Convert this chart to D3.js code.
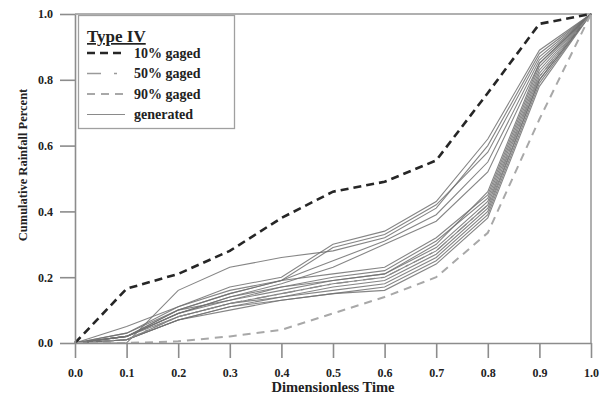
<!DOCTYPE html>
<html>
<head>
<meta charset="utf-8">
<script src="https://cdn.jsdelivr.net/npm/d3@7"></script>
<style>
  body { margin: 0; background: #fff; }
  text { font-family: "Liberation Serif", "Times New Roman", serif; font-weight: bold; }
</style>
</head>
<body>
<svg id="chart"></svg>
<script>
// dimensionless time steps
var times = [0, 0.1, 0.2, 0.3, 0.4, 0.5, 0.6, 0.7, 0.8, 0.9, 1.0]
var xTicks = [0, 0.1, 0.2, 0.3, 0.4, 0.5, 0.6, 0.7, 0.8, 0.9, 1.0]
var yTicks = [0, 0.2, 0.4, 0.6, 0.8, 1.0]

var gaged10 = [0, 0.165, 0.21, 0.28, 0.38, 0.46, 0.49, 0.555, 0.76, 0.97, 1]
var gaged50 = [0, 0.01, 0.08, 0.12, 0.15, 0.18, 0.20, 0.28, 0.42, 0.81, 1]
var gaged90 = [0, 0.0, 0.005, 0.02, 0.04, 0.09, 0.14, 0.20, 0.335, 0.68, 1]

// generated hyetographs
var generated = [
  [0, 0.00, 0.16, 0.23, 0.26, 0.28, 0.32, 0.41, 0.60, 0.88, 1],
  [0, 0.05, 0.11, 0.17, 0.20, 0.30, 0.34, 0.43, 0.62, 0.89, 1],
  [0, 0.03, 0.11, 0.16, 0.19, 0.29, 0.33, 0.42, 0.58, 0.87, 1],
  [0, 0.02, 0.10, 0.15, 0.19, 0.25, 0.31, 0.39, 0.55, 0.86, 1],
  [0, 0.02, 0.09, 0.14, 0.18, 0.23, 0.30, 0.37, 0.52, 0.85, 1],
  [0, 0.03, 0.10, 0.15, 0.19, 0.21, 0.23, 0.32, 0.45, 0.84, 1],
  [0, 0.02, 0.09, 0.14, 0.17, 0.20, 0.22, 0.31, 0.44, 0.83, 1],
  [0, 0.02, 0.09, 0.13, 0.16, 0.19, 0.21, 0.29, 0.43, 0.82, 1],
  [0, 0.02, 0.08, 0.12, 0.15, 0.18, 0.20, 0.28, 0.42, 0.81, 1],
  [0, 0.01, 0.08, 0.12, 0.14, 0.17, 0.19, 0.27, 0.41, 0.80, 1],
  [0, 0.01, 0.07, 0.11, 0.14, 0.16, 0.18, 0.26, 0.40, 0.80, 1],
  [0, 0.01, 0.07, 0.11, 0.13, 0.15, 0.17, 0.25, 0.39, 0.79, 1],
  [0, 0.01, 0.07, 0.10, 0.13, 0.15, 0.16, 0.24, 0.38, 0.78, 1],
  [0, 0.02, 0.10, 0.13, 0.17, 0.19, 0.21, 0.30, 0.46, 0.85, 1]
]

var legendLabels = ["10% gaged", "50% gaged", "90% gaged", "generated"]

var dimensions = {
  width: 602,
  height: 399,
  margin: { top: 14, bottom: 56, right: 11, left: 75 }
}
dimensions.boundedWidth = dimensions.width - dimensions.margin.left - dimensions.margin.right
dimensions.boundedHeight = dimensions.height - dimensions.margin.top - dimensions.margin.bottom

var axisColor = "#8c8c8c"

var svg = d3.select("#chart")
  .attr("width", dimensions.width)
  .attr("height", dimensions.height)

var bounds = svg.append("g")
  .attr("transform", `translate(${dimensions.margin.left},${dimensions.margin.top})`)

var xScale = d3.scaleLinear().domain([0, 1]).range([0, dimensions.boundedWidth])
var yScale = d3.scaleLinear().domain([0, 1]).range([dimensions.boundedHeight, 0])

var line = d3.line()
  .x((d, i) => xScale(times[i]))
  .y(d => yScale(d))

// frame (top + right)
bounds.append("path")
  .attr("d", `M0,0H${dimensions.boundedWidth}V${dimensions.boundedHeight}`)
  .attr("fill", "none")
  .attr("stroke", "#b0b0b0")
  .attr("stroke-width", 2)

// generated lines
bounds.selectAll(".gen")
  .data(generated)
  .enter()
  .append("path")
  .attr("class", "gen")
  .attr("fill", "none")
  .attr("stroke", "#707070")
  .attr("stroke-opacity", 0.85)
  .attr("stroke-width", 1.1)
  .attr("d", line)

// 50% gaged
bounds.append("path")
  .attr("fill", "none")
  .attr("stroke", "#8a8a8a")
  .attr("stroke-width", 1.3)
  .attr("stroke-dasharray", "12,6,3,6")
  .attr("d", line(gaged50))

// 90% gaged
bounds.append("path")
  .attr("fill", "none")
  .attr("stroke", "#a8a8a8")
  .attr("stroke-width", 2)
  .attr("stroke-dasharray", "8,6")
  .attr("d", line(gaged90))

// 10% gaged
bounds.append("path")
  .attr("fill", "none")
  .attr("stroke", "#262626")
  .attr("stroke-width", 2.6)
  .attr("stroke-dasharray", "8,5")
  .attr("d", line(gaged10))

// axes
var xAxis = d3.axisBottom(xScale)
  .tickValues(xTicks)
  .tickSize(15)
  .tickPadding(10)
  .tickSizeOuter(0)
  .tickFormat(d3.format(".1f"))

var xg = bounds.append("g")
  .attr("transform", `translate(0,${dimensions.boundedHeight})`)
  .call(xAxis)

var yAxis = d3.axisLeft(yScale)
  .tickValues(yTicks)
  .tickSize(15)
  .tickPadding(7)
  .tickSizeOuter(0)
  .tickFormat(d3.format(".1f"))

var yg = bounds.append("g").call(yAxis)

bounds.selectAll(".domain, .tick line")
  .attr("stroke", axisColor)
  .attr("stroke-width", 1.6)
bounds.selectAll(".tick text")
  .attr("fill", "#222")
  .style("font-size", "12px")
  .style("font-family", "Liberation Serif, serif")
  .style("font-weight", "bold")

// axis titles
svg.append("text")
  .attr("x", dimensions.margin.left + dimensions.boundedWidth / 2)
  .attr("y", 392)
  .attr("text-anchor", "middle")
  .attr("fill", "#222")
  .style("font-size", "14.5px")
  .text("Dimensionless Time")

svg.append("text")
  .attr("transform", "translate(27,165) rotate(-90)")
  .attr("text-anchor", "middle")
  .attr("fill", "#222")
  .style("font-size", "12.5px")
  .text("Cumulative Rainfall Percent")

// legend
var legend = svg.append("g").attr("transform", "translate(78,15)")

legend.append("rect")
  .attr("x", 0.5)
  .attr("y", 0.5)
  .attr("width", 156)
  .attr("height", 113)
  .attr("fill", "#fff")
  .attr("stroke", "#a0a0a0")
  .attr("stroke-width", 1.3)

legend.append("text")
  .attr("x", 9)
  .attr("y", 27)
  .attr("fill", "#222")
  .style("font-size", "17px")
  .style("text-decoration", "underline")
  .text("Type IV")

var legendStyles = [
  { stroke: "#262626", width: 2.6, dash: "8,5" },
  { stroke: "#9a9a9a", width: 1.3, dash: "14,13,3,20" },
  { stroke: "#a8a8a8", width: 2, dash: "8,6" },
  { stroke: "#8a8a8a", width: 1.1, dash: null }
]

legendLabels.forEach(function(label, i) {
  var y = 38 + i * 20.5
  legend.append("line")
    .attr("x1", 9)
    .attr("x2", 47)
    .attr("y1", y)
    .attr("y2", y)
    .attr("stroke", legendStyles[i].stroke)
    .attr("stroke-width", legendStyles[i].width)
    .attr("stroke-dasharray", legendStyles[i].dash)
  legend.append("text")
    .attr("x", 56)
    .attr("y", y + 4.5)
    .attr("fill", "#222")
    .style("font-size", "14px")
    .text(label)
})
</script>
</body>
</html>
